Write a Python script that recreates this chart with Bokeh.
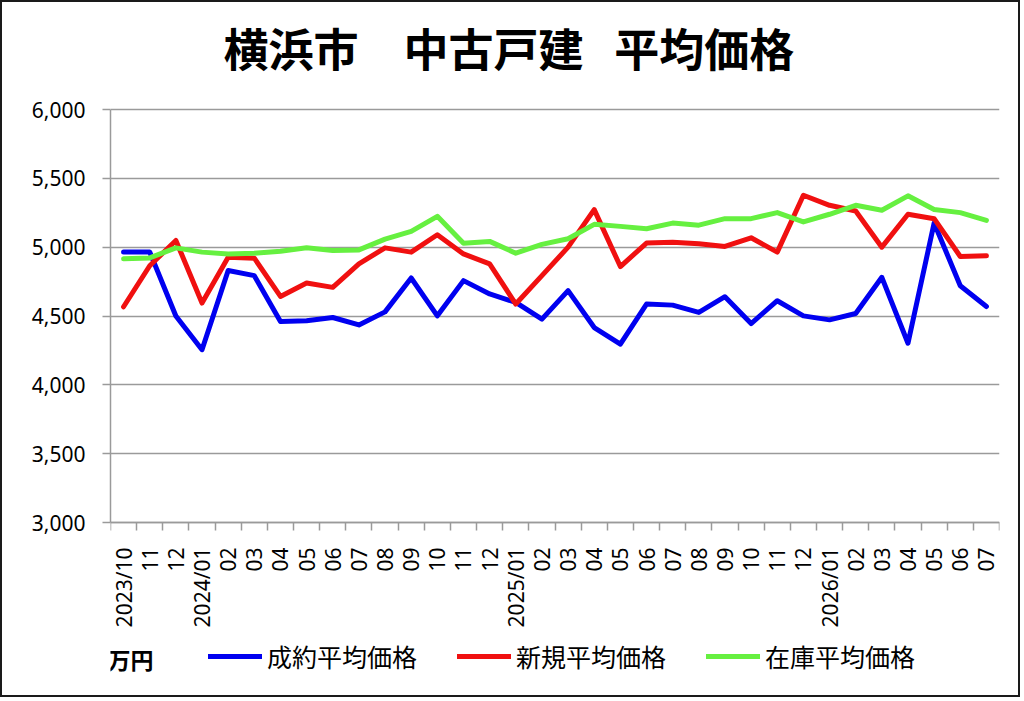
import numpy as np
from bokeh.plotting import figure
from bokeh.models import Range1d, FixedTicker, Legend, LegendItem, Label, NumeralTickFormatter
from bokeh.embed import file_html
from bokeh.resources import INLINE

months = ["2023/10", "11", "12", "2024/01", "02", "03", "04", "05", "06", "07", "08", "09",
          "10", "11", "12", "2025/01", "02", "03", "04", "05", "06", "07", "08", "09",
          "10", "11", "12", "2026/01", "02", "03", "04", "05", "06", "07"]

contract_avg = [4965, 4965, 4500, 4255, 4830, 4793, 4460, 4465, 4489, 4435, 4530, 4776,
                4501, 4757, 4660, 4599, 4477, 4684, 4416, 4295, 4587, 4579, 4526, 4640,
                4445, 4611, 4501, 4472, 4518, 4781, 4302, 5175, 4720, 4569]
new_avg = [4567, 4865, 5049, 4594, 4927, 4920, 4642, 4740, 4708, 4879, 4995, 4964,
           5090, 4951, 4879, 4587, 4793, 5000, 5273, 4859, 5030, 5035, 5025, 5005,
           5068, 4964, 5377, 5304, 5263, 5000, 5239, 5207, 4932, 4937]
stock_avg = [4915, 4922, 4995, 4964, 4951, 4956, 4971, 4995, 4976, 4980, 5058, 5115,
             5224, 5029, 5042, 4956, 5020, 5061, 5166, 5151, 5134, 5175, 5160, 5207,
             5207, 5251, 5183, 5239, 5304, 5268, 5373, 5273, 5251, 5195]

y_ticks = [3000, 3500, 4000, 4500, 5000, 5500, 6000]
series_names = ["成約平均価格", "新規平均価格", "在庫平均価格"]
series_colors = ["#0000F0", "#F01010", "#66F040"]
title_text = "横浜市\u3000中古戸建\u00a0\u00a0\u00a0平均価格"
unit_text = "万円"

# ---- layout (pixels) ----
BORDER = 2
W, H = 1024 - 2 * BORDER, 701 - 2 * BORDER   # canvas size; css border drawn outside
FRAME_LEFT, FRAME_RIGHT = 110, 999   # page px
Y_TOP_PX, Y_BOT_PX = 109, 522        # page px of 6000 / 3000
px_per_unit = (Y_BOT_PX - Y_TOP_PX) / (y_ticks[-1] - y_ticks[0])
frame_top_px = BORDER
frame_bot_px = BORDER + H
y_hi = y_ticks[-1] + (Y_TOP_PX - frame_top_px) / px_per_unit
y_lo = y_ticks[0] - (frame_bot_px - Y_BOT_PX) / px_per_unit

x = list(range(len(months)))

p = figure(width=W, height=H, output_backend="svg", toolbar_location=None,
           x_range=Range1d(-0.5, len(months) - 0.5), y_range=Range1d(y_lo, y_hi),
           min_border_left=FRAME_LEFT - BORDER, min_border_top=0,
           min_border_right=BORDER + W - FRAME_RIGHT, min_border_bottom=0)
p.styles = {"border": "2px solid #1a1a1a"}
p.background_fill_color = "white"
p.border_fill_color = "white"
p.outline_line_color = None

grid_color = "#9a9a9a"
num_font = "Noto Sans"
cjk_font = "Noto Sans CJK JP"

# x axis (drawn at the 3,000 line)
p.xaxis.fixed_location = y_ticks[0]
p.xaxis.ticker = FixedTicker(ticks=x, minor_ticks=[i - 0.5 for i in range(len(months) + 1)])
p.xaxis.major_label_overrides = {i: m for i, m in enumerate(months)}
p.xaxis.major_label_orientation = np.pi / 2
p.xaxis.major_tick_line_color = None
p.xaxis.major_tick_out = 0
p.xaxis.major_tick_in = 0
p.xaxis.minor_tick_line_color = grid_color
p.xaxis.minor_tick_line_width = 1.5
p.xaxis.minor_tick_out = 8
p.xaxis.minor_tick_in = 0
p.xaxis.axis_line_color = grid_color
p.xaxis.axis_line_width = 1.5
p.xaxis.major_label_standoff = 17
p.xaxis.major_label_text_font = num_font
p.xaxis.major_label_text_font_size = "21px"
p.xaxis.major_label_text_color = "black"
p.xgrid.grid_line_color = None

# y axis
p.yaxis.bounds = (y_ticks[0], y_ticks[-1])
p.yaxis.ticker = FixedTicker(ticks=y_ticks, minor_ticks=[])
p.yaxis.formatter = NumeralTickFormatter(format="0,0")
p.yaxis.major_tick_out = 8
p.yaxis.major_tick_in = 0
p.yaxis.major_tick_line_color = grid_color
p.yaxis.major_tick_line_width = 1.5
p.yaxis.axis_line_color = grid_color
p.yaxis.axis_line_width = 1.5
p.yaxis.major_label_standoff = 17
p.yaxis.major_label_text_font = num_font
p.yaxis.major_label_text_font_size = "21px"
p.yaxis.major_label_text_color = "black"
p.ygrid.ticker = FixedTicker(ticks=y_ticks)
p.ygrid.grid_line_color = grid_color
p.ygrid.grid_line_width = 1.5

renderers = []
for vals, col in zip([contract_avg, new_avg, stock_avg], series_colors):
    r = p.line(x, vals, line_color=col, line_width=5, line_join="round", line_cap="round")
    renderers.append(r)

legend = Legend(items=[LegendItem(label=n, renderers=[r]) for n, r in zip(series_names, renderers)],
                orientation="horizontal", location=(208 - FRAME_LEFT, frame_bot_px - 661 - 13),
                glyph_width=54, glyph_height=26, label_standoff=5, spacing=40,
                padding=0, margin=0, border_line_color=None, background_fill_alpha=0,
                label_text_font=cjk_font, label_text_font_size="25px", label_text_color="black",
                label_height=26)
p.add_layout(legend)

p.add_layout(Label(x=107 - FRAME_LEFT, y=frame_bot_px - 658, x_units="screen", y_units="screen",
                   text=unit_text, text_font=cjk_font, text_font_size="23px",
                   text_font_style="bold", text_color="black",
                   text_baseline="middle", text_align="left"))
p.add_layout(Label(x=225 - FRAME_LEFT - 2, y=frame_bot_px - 47, x_units="screen", y_units="screen",
                   text=title_text, text_font=cjk_font, text_font_size="45px",
                   text_font_style="bold", text_color="black",
                   text_baseline="middle", text_align="left"))

open("out.html", "w").write(file_html(p, INLINE))
